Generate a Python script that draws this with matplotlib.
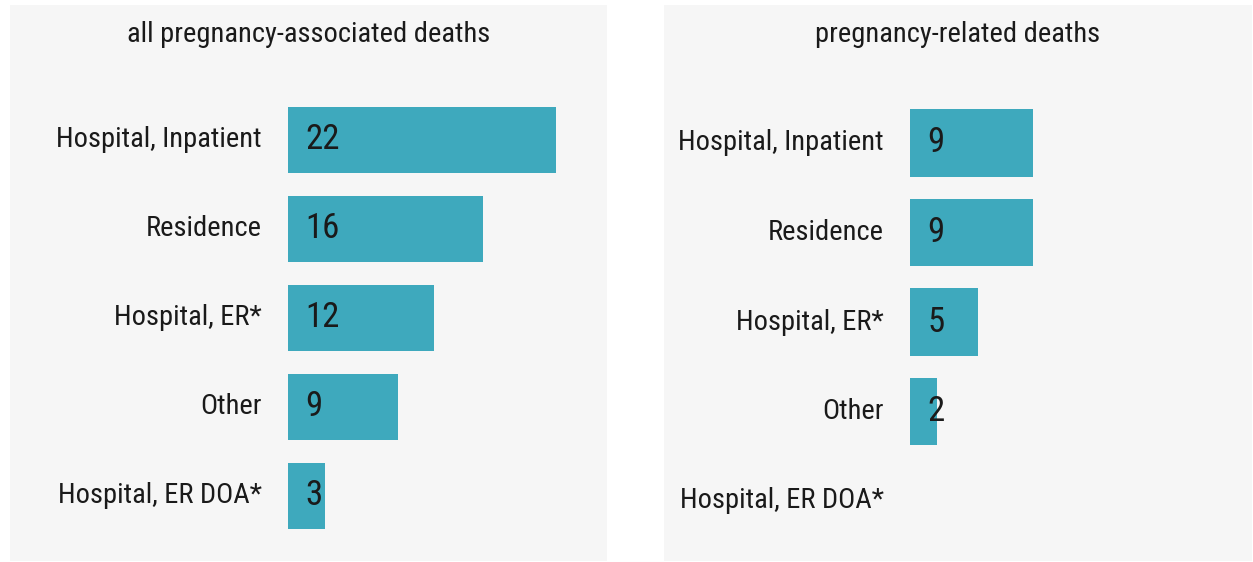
import matplotlib.pyplot as plt

places = ["Hospital, Inpatient", "Residence", "Hospital, ER*", "Other", "Hospital, ER DOA*"]
all_assoc = [22, 16, 12, 9, 3]
related = [9, 9, 5, 2, 0]
titles = ["all pregnancy-associated deaths", "pregnancy-related deaths"]

plt.rcParams['font.family'] = ["Roboto Condensed", "Liberation Sans Narrow", "Open Sans", "DejaVu Sans"]

bar_col = "#3ea9bd"
panel_col = "#f6f6f6"
txt_col = "#1a1a1a"

W, H = 1253, 562
fig = plt.figure(figsize=(W / 100, H / 100), dpi=100, facecolor="white")

# panel geometry in pixels: left, right, top, bottom, bar origin, px per unit, first row, row step
panels = [
    (10, 607, 5, 561, 288, 12.19, 140, 89),
    (664, 1252, 5, 561, 910, 13.65, 143, 89.5),
]

for (x0, x1, y0, y1, org, s, r0, step), vals, title in zip(panels, [all_assoc, related], titles):
    ax = fig.add_axes([x0 / W, 1 - y1 / H, (x1 - x0) / W, (y1 - y0) / H])
    ax.set_facecolor(panel_col)
    for sp in ax.spines.values():
        sp.set_visible(False)
    ax.set_xticks([])
    ax.set_yticks([])
    ax.set_xlim(-(org - x0) / s, (x1 - org) / s)
    ax.set_ylim((y1 - r0) / step, -(r0 - y0) / step)
    ys = list(range(len(places)))
    ax.barh(ys, vals, height=0.75, color=bar_col)
    for y, name, v in zip(ys, places, vals):
        ax.text(-26 / s, y, name, ha="right", va="center", fontsize=20.5, color=txt_col)
        if v > 0:
            ax.text(17 / s, y, str(v), ha="left", va="center", fontsize=25, color=txt_col)
    ax.text(0.5, 1 - 29 / (y1 - y0), title, transform=ax.transAxes, ha="center", va="center",
            fontsize=20.5, color=txt_col)

plt.savefig("out.png", dpi=100, facecolor="white")
